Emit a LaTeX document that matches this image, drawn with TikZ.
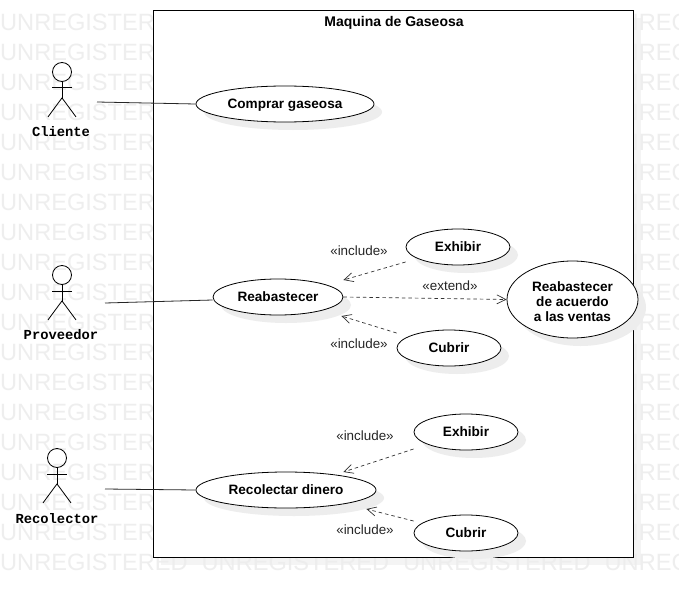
\documentclass[tikz,border=0pt]{standalone}
\usepackage{fontspec}
\setmainfont{Liberation Sans}
\setmonofont{Liberation Mono}
\usetikzlibrary{shapes.geometric,shadows,arrows.meta,calc}
\definecolor{wm}{gray}{0.935}
\definecolor{shd}{gray}{0.93}
\tikzset{
  pxgrid/.style={x=1pt,y=-1pt},
  uc/.style={ellipse,draw=black,fill=white,line width=0.8pt,inner sep=0pt,
    align=center,font=\fontsize{13.6}{15}\selectfont\bfseries,
    drop shadow={shadow xshift=8pt,shadow yshift=-8pt,fill=shd,opacity=1}},
  oneline/.style={text height=9pt,text depth=1pt},
  sysbox/.style={rectangle,draw=black,fill=white,line width=0.8pt,inner sep=0pt,
    drop shadow={shadow xshift=8pt,shadow yshift=-8pt,fill=shd,opacity=0.6}},
  assoc/.style={draw=black!85,line width=0.8pt},
  dep/.style={draw=black!80,line width=0.7pt,dash pattern=on 3.5pt off 3pt,
    -{Straight Barb[length=9pt,width=9pt,line width=0.7pt]}},
  actorline/.style={draw=black,line width=0.8pt},
  actorname/.style={font=\fontsize{13.8}{14}\selectfont\ttfamily\bfseries,inner sep=0pt},
  stereo/.style={font=\fontsize{13.4}{14}\selectfont,text=black!85,inner sep=0pt},
  wmtext/.style={font=\fontsize{23.6}{24}\selectfont,text=wm,anchor=west,inner sep=0pt},
  titletext/.style={font=\fontsize{14}{15}\selectfont\bfseries,inner sep=0pt}
}
\newcommand{\stickman}[3]{%
  \node[circle,draw=black,line width=0.8pt,minimum size=19pt,inner sep=0pt] (#3head) at (#1,#2) {};
  \draw[actorline] (#3head.south) -- ++(0,16) coordinate (#3hip);
  \draw[actorline] ($(#3head.south)+(-10,6)$) -- ++(20,0);
  \draw[actorline] (#3hip) -- ++(-14,19);
  \draw[actorline] (#3hip) -- ++(14,19);
}
\begin{document}
\begin{tikzpicture}[pxgrid]
\useasboundingbox (0,0) rectangle (679,599);
\fill[white] (0,0) rectangle (679,599);
\foreach \r in {0,...,18}{
  \node[wmtext] (wm\r) at (0,{22+30*\r}) {UNREGISTERED\hspace{14pt}UNREGISTERED\hspace{14pt}UNREGISTERED\hspace{14pt}UNREGISTERED};
}
\node[sysbox,minimum width=480pt,minimum height=547pt] (sys) at (393,283.5) {};
\node[titletext] (title) at (394,23) {Maquina de Gaseosa};

\node[uc,oneline,minimum width=178pt,minimum height=36pt] (comprar) at (285,104) {Comprar gaseosa};
\node[uc,oneline,minimum width=130pt,minimum height=36pt] (reab) at (278,297) {Reabastecer};
\node[uc,oneline,minimum width=104pt,minimum height=36pt] (exh1) at (458,247) {Exhibir};
\node[uc,oneline,minimum width=104pt,minimum height=36pt] (cub1) at (449,348) {Cubrir};
\node[uc,minimum width=131pt,minimum height=77pt] (ventas) at (572.5,299.5) {\rule{0pt}{14pt}Reabastecer\\de acuerdo\\a las ventas};
\node[uc,oneline,minimum width=180pt,minimum height=36pt] (recol) at (286,490) {Recolectar dinero};
\node[uc,oneline,minimum width=104pt,minimum height=36pt] (exh2) at (466,432) {Exhibir};
\node[uc,oneline,minimum width=104pt,minimum height=36pt] (cub2) at (466,533) {Cubrir};

\stickman{62}{72}{cli}
\stickman{62}{275}{pro}
\stickman{57}{458}{rec}
\node[actorname] (clin) at (61,132) {Cliente};
\node[actorname] (pron) at (61,335) {Proveedor};
\node[actorname] (recn) at (57,519) {Recolector};

\coordinate (clia) at (97,102);
\coordinate (proa) at (105,303);
\coordinate (reca) at (105,489);
\draw[assoc] (clia) -- (comprar.west);
\draw[assoc] (proa) -- ($(reab.west)+(0,3)$);
\draw[assoc] (reca) -- (recol.west);

\draw[dep] ($(exh1.west)+(0,15)$) -- ($(reab.east)+(0,-17)$);
\draw[dep] ($(cub1.west)+(0,-15)$) -- ($(reab.east)+(-2,19)$);
\draw[dep] (reab.east) -- (ventas.west);
\draw[dep] ($(exh2.west)+(0,17)$) -- ($(recol.east)+(-33,-18)$);
\draw[dep] ($(cub2.west)+(0,-12)$) -- ($(recol.east)+(-10,19)$);

\node[stereo] (s1) at (359,251) {«include»};
\node[stereo] (s2) at (359,344) {«include»};
\node[stereo] (s3) at (450,286) {«extend»};
\node[stereo] (s4) at (365,436) {«include»};
\node[stereo] (s5) at (365,530) {«include»};
\end{tikzpicture}
\end{document}
